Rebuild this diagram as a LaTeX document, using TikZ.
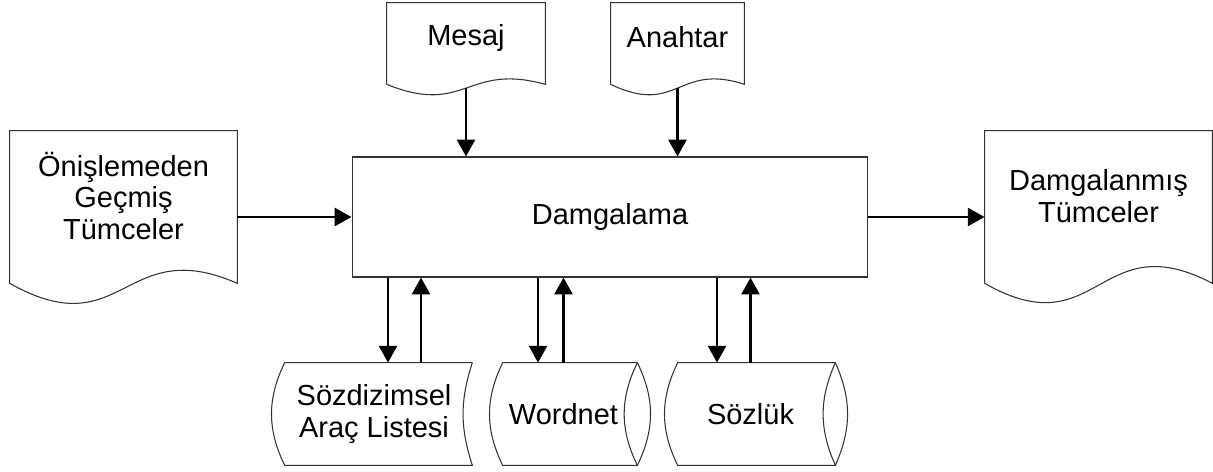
\documentclass[tikz,border=0pt]{standalone}
\usepackage{fontspec}
\setmainfont{Liberation Sans}
\usetikzlibrary{positioning}
\usetikzlibrary{calc, arrows.meta}
\tikzstyle{outline} = [draw=black!80, line width=0.6pt]
\tikzstyle{box} = [rectangle, draw=black!80, line width=0.6pt, text centered]
\tikzstyle{doc} = [rectangle, inner sep=0pt, text centered]
\tikzstyle{drum} = [rectangle, inner sep=0pt, text centered, minimum height=2.04cm]
\tikzstyle{line} = [draw, line width=1.6pt, -{Triangle[length=9.6pt, width=10.2pt]}]
% document sheet: sides, top and the wavy bottom edge
\newcommand{\docshape}[4]{%
  \draw[outline] ($(#1.south west)+(0,-#2)$) -- (#1.north west) -- (#1.north east) -- ($(#1.south east)+(0,-#2)$)
    .. controls ($(#1.south)+(0,#4-#2)$) and ($(#1.south)+(0,-#3-#2)$) .. coordinate[pos=0.5] (#1-wave) ($(#1.south west)+(0,-#2)$);
}
% stored data: left arc, lines and inner arc of the end
\newcommand{\drumbody}[4]{%
  \draw[outline] ($(#1.north east)+(#2,0)$) -- (#1.north west) to[bend right=#3] (#1.south west)
    -- ($(#1.south east)+(#2,0)$) to[bend left=#4] ($(#1.north east)+(#2,0)$);
}
\newcommand{\drumcap}[3]{%
  \draw[outline] ($(#1.south east)+(#2,0)$) to[bend right=#3] ($(#1.north east)+(#2,0)$);
}

\begin{document}
\begin{tikzpicture}[x=0.02cm, y=0.02cm, align=center, font=\fontsize{16.5pt}{18.2pt}\selectfont]
    \useasboundingbox (0,0) rectangle (1213,-471);

    \node [box, minimum width=10.32cm, minimum height=2.4cm] (damgalama) at (610,-217) {Damgalama};
    \node [doc, minimum width=4.54cm, minimum height=2.6cm] (onislem) at (123.5,-196) {Önişlemeden\\Geçmiş\\Tümceler};
    \node [doc, minimum width=4.54cm, minimum height=2.6cm] (damgali) at (1098.5,-196) {Damgalanmış\\Tümceler};
    \node [doc, minimum width=3.16cm, minimum height=1.38cm] (mesaj) at (466,-37.5) {Mesaj};
    \node [doc, minimum width=2.66cm, minimum height=1.38cm] (anahtar) at (677.5,-37.5) {Anahtar};
    \node [drum, minimum width=3.56cm] (sozdizim) at (374,-414) {Sözdizimsel\\Araç Listesi};
    \node [drum, minimum width=2.42cm] (wordnet) at (563.5,-414) {Wordnet};
    \node [drum, minimum width=2.9cm] (sozluk) at (750.5,-414) {Sözlük};

    \docshape{onislem}{22}{64}{50}
    \docshape{damgali}{22}{65}{60}
    \docshape{mesaj}{12}{32}{22}
    \docshape{anahtar}{12}{32}{22}
    \drumbody{sozdizim}{9}{26}{18}
    \drumbody{wordnet}{13}{26}{26}
    \drumcap{wordnet}{13}{26}
    \drumbody{sozluk}{12}{26}{24}
    \drumcap{sozluk}{12}{24}

    \path [line] (onislem.east |- damgalama.west) -- (damgalama.west);
    \path [line] (damgalama.east) -- (damgalama.east -| damgali.west);
    \path [line] (mesaj-wave) -- (mesaj-wave |- damgalama.north);
    \path [line] (anahtar-wave) -- (anahtar-wave |- damgalama.north);
    \path [line] ([xshift=0.28cm]sozdizim.north |- damgalama.south) -- ([xshift=0.28cm]sozdizim.north);
    \path [line] ([xshift=0.94cm]sozdizim.north) -- ([xshift=0.94cm]sozdizim.north |- damgalama.south);
    \path [line] ([xshift=-0.51cm]wordnet.north |- damgalama.south) -- ([xshift=-0.51cm]wordnet.north);
    \path [line] (wordnet.north) -- (wordnet.north |- damgalama.south);
    \path [line] ([xshift=-0.67cm]sozluk.north |- damgalama.south) -- ([xshift=-0.67cm]sozluk.north);
    \path [line] (sozluk.north) -- (sozluk.north |- damgalama.south);

  \end{tikzpicture}
\end{document}
